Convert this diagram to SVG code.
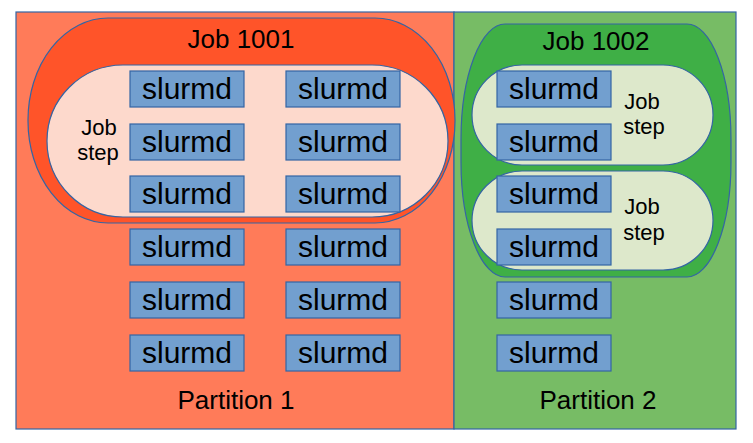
<svg xmlns="http://www.w3.org/2000/svg" width="753" height="443" viewBox="0 0 753 443">
<style>
  .part{stroke:#3465a4;stroke-width:1.2}
  .job{stroke:#3465a4;stroke-width:1.2}
  .step{stroke:#3465a4;stroke-width:1.2}
  .box{fill:#729fcf;stroke:#3465a4;stroke-width:1.2}
  .nt{font-family:"Liberation Sans",Arial,sans-serif;font-size:30px;fill:#000;text-anchor:middle}
  .lbl{font-family:"Liberation Sans",Arial,sans-serif;fill:#000;text-anchor:middle}
</style>
<rect width="753" height="443" fill="#ffffff"/>
<g id="partition1">
  <rect class="part" x="16" y="12" width="438" height="417" fill="#ff7b59"/>
  <text class="lbl" x="236" y="409" font-size="26">Partition 1</text>
</g>
<g id="partition2">
  <rect class="part" x="454" y="12" width="282" height="417" fill="#77bc65"/>
  <text class="lbl" x="598" y="409" font-size="26">Partition 2</text>
</g>
<g id="job1001">
  <rect class="job" x="28" y="18" width="427" height="205" rx="80" ry="102" fill="#ff5429"/>
  <text class="lbl" x="241" y="48" font-size="26">Job 1001</text>
</g>
<g id="jobstep1001">
  <rect class="step" x="47" y="65" width="401" height="152" rx="76" ry="76" fill="#fdd9cc"/>
  <text class="lbl" x="99" y="135" font-size="22">Job</text>
  <text class="lbl" x="98" y="160" font-size="22">step</text>
</g>
<g id="job1002">
  <rect class="job" x="461" y="24" width="270" height="253" rx="44" ry="115" fill="#3faf46"/>
  <text class="lbl" x="596" y="50" font-size="26">Job 1002</text>
</g>
<g id="jobstep1002a">
  <rect class="step" x="472" y="65" width="241" height="100" rx="50" ry="50" fill="#dde8cb"/>
  <text class="lbl" x="642" y="109" font-size="22">Job</text>
  <text class="lbl" x="644" y="134" font-size="22">step</text>
</g>
<g id="jobstep1002b">
  <rect class="step" x="472" y="171" width="241" height="99" rx="50" ry="50" fill="#dde8cb"/>
  <text class="lbl" x="642" y="214" font-size="22">Job</text>
  <text class="lbl" x="644" y="240" font-size="22">step</text>
</g>
<g id="n1"><rect class="box" x="130" y="71" width="114" height="36"/><text class="nt" x="187" y="99">slurmd</text></g>
<g id="n2"><rect class="box" x="286" y="71" width="114" height="36"/><text class="nt" x="343" y="99">slurmd</text></g>
<g id="n3"><rect class="box" x="130" y="124" width="114" height="36"/><text class="nt" x="187" y="152">slurmd</text></g>
<g id="n4"><rect class="box" x="286" y="124" width="114" height="36"/><text class="nt" x="343" y="152">slurmd</text></g>
<g id="n5"><rect class="box" x="130" y="176" width="114" height="36"/><text class="nt" x="187" y="204">slurmd</text></g>
<g id="n6"><rect class="box" x="286" y="176" width="114" height="36"/><text class="nt" x="343" y="204">slurmd</text></g>
<g id="n7"><rect class="box" x="130" y="229" width="114" height="36"/><text class="nt" x="187" y="257">slurmd</text></g>
<g id="n8"><rect class="box" x="286" y="229" width="114" height="36"/><text class="nt" x="343" y="257">slurmd</text></g>
<g id="n9"><rect class="box" x="130" y="282" width="114" height="36"/><text class="nt" x="187" y="310">slurmd</text></g>
<g id="n10"><rect class="box" x="286" y="282" width="114" height="36"/><text class="nt" x="343" y="310">slurmd</text></g>
<g id="n11"><rect class="box" x="130" y="335" width="114" height="36"/><text class="nt" x="187" y="363">slurmd</text></g>
<g id="n12"><rect class="box" x="286" y="335" width="114" height="36"/><text class="nt" x="343" y="363">slurmd</text></g>
<g id="n13"><rect class="box" x="497" y="71" width="114" height="36"/><text class="nt" x="554" y="99">slurmd</text></g>
<g id="n14"><rect class="box" x="497" y="124" width="114" height="36"/><text class="nt" x="554" y="152">slurmd</text></g>
<g id="n15"><rect class="box" x="497" y="176" width="114" height="36"/><text class="nt" x="554" y="204">slurmd</text></g>
<g id="n16"><rect class="box" x="497" y="229" width="114" height="36"/><text class="nt" x="554" y="257">slurmd</text></g>
<g id="n17"><rect class="box" x="497" y="282" width="114" height="36"/><text class="nt" x="554" y="310">slurmd</text></g>
<g id="n18"><rect class="box" x="497" y="335" width="114" height="36"/><text class="nt" x="554" y="363">slurmd</text></g>
<g id="connectors"></g>
</svg>
